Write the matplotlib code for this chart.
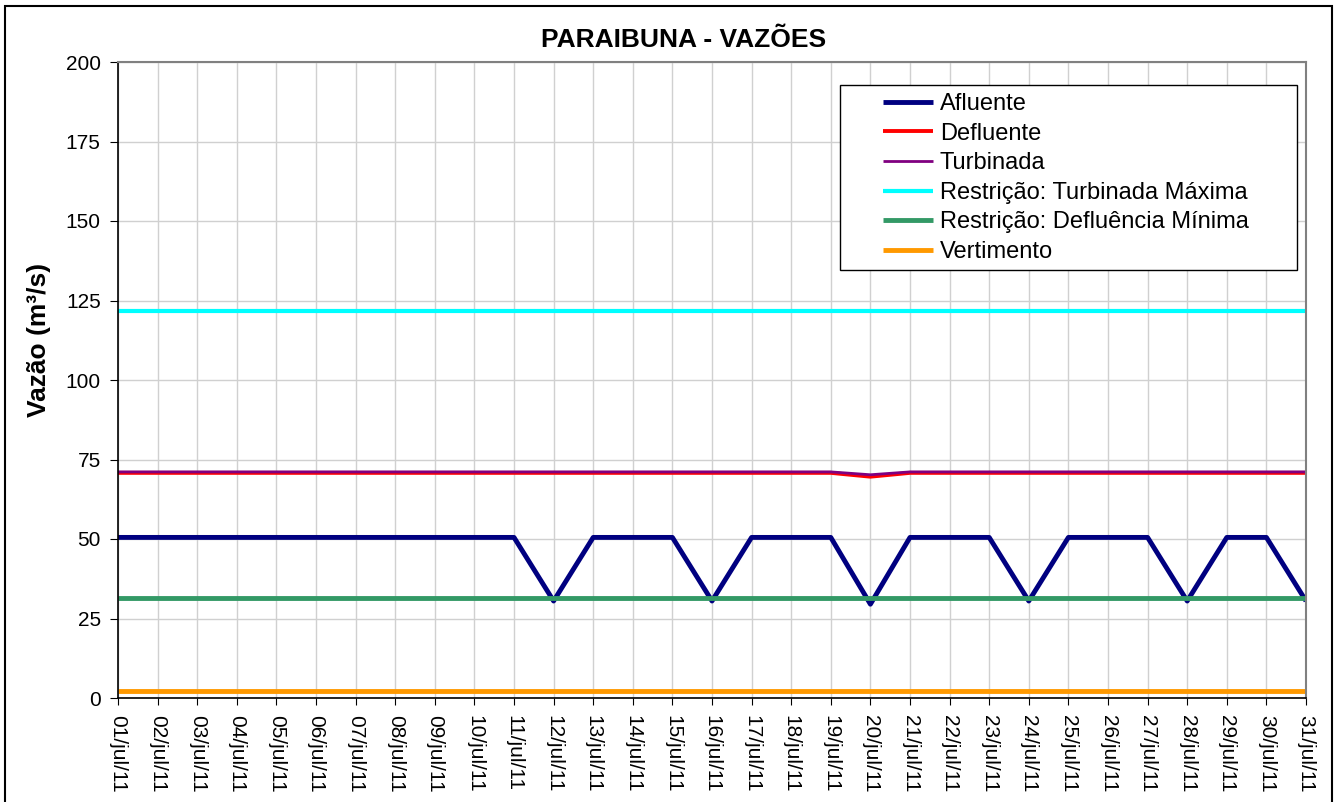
import matplotlib
matplotlib.use("Agg")
import matplotlib.pyplot as plt
from matplotlib.patches import Rectangle

plt.rcParams['font.family'] = ['Liberation Sans', 'DejaVu Sans']

days = [f"{d:02d}/jul/11" for d in range(1, 32)]
afluente = [50.5]*11 + [30.5] + [50.5]*3 + [30.5] + [50.5]*3 + [29.5] + [50.5]*3 + [30.5] + [50.5]*3 + [30.5] + [50.5]*2 + [30.5]
defluente = [70.8]*19 + [69.6] + [70.8]*11
turbinada = [71.1]*19 + [70.2] + [71.1]*11
turb_max = [121.8]*31
deflu_min = [31.4]*31
vertimento = [2.2]*31

series = [
    ("Afluente", afluente, "#000080", 3.5),
    ("Defluente", defluente, "#FF0000", 2.8),
    ("Turbinada", turbinada, "#800080", 2.0),
    ("Restrição: Turbinada Máxima", turb_max, "#00FFFF", 3.0),
    ("Restrição: Defluência Mínima", deflu_min, "#339966", 3.5),
    ("Vertimento", vertimento, "#FF9900", 3.5),
]

W, H = 1339, 802
fig = plt.figure(figsize=(W/100, H/100), dpi=100)
ax = fig.add_axes([118/W, 1-698/H, (1306-118)/W, (698-62)/H])
fig.patches.append(Rectangle((5/W, -0.05), (1332-5)/W, 1.05-6/H,
                             transform=fig.transFigure, fill=False,
                             edgecolor='black', linewidth=1.5))

x = list(range(len(days)))
for name, vals, col, lw in series:
    ax.plot(x, vals, color=col, linewidth=lw, label=name, solid_capstyle='butt')

ax.set_xlim(0, len(days)-1)
ax.set_ylim(0, 200)
ax.set_yticks(range(0, 201, 25))
ax.set_xticks(x)
ax.set_xticklabels(days, rotation=-90, fontsize=15)
ax.tick_params(axis='y', labelsize=15, direction='out', length=5.5, pad=7)
ax.tick_params(axis='x', direction='out', length=5, pad=7)
ax.grid(True, color='#D0D0D0', linewidth=1)
ax.set_axisbelow(True)
for s in ['top', 'right']:
    ax.spines[s].set_color('#808080')
    ax.spines[s].set_linewidth(1.5)
for s in ['left', 'bottom']:
    ax.spines[s].set_color('black')
    ax.spines[s].set_linewidth(1.2)

fig.text(684/W, 1-40/H, "PARAIBUNA - VAZÕES", fontsize=19, fontweight='bold',
         ha='center', va='center')
fig.text(39/W, 1-340/H, "Vazão (m³/s)", fontsize=19, fontweight='bold',
         ha='center', va='center', rotation=90)

# legend frame
fig.patches.append(Rectangle((840/W, 1-270/H), (1297-840)/W, (270-85)/H,
                             transform=fig.transFigure, facecolor='white',
                             edgecolor='black', linewidth=1.0, zorder=5))
leg = fig.legend(*ax.get_legend_handles_labels(), loc='center left',
                 bbox_to_anchor=(883/W, 1-178/H), fontsize=17,
                 frameon=False, handlelength=2.1, handletextpad=0.3,
                 labelspacing=0.32, borderpad=0, borderaxespad=0)
leg.set_zorder(6)

fig.savefig("out.png", dpi=100)
